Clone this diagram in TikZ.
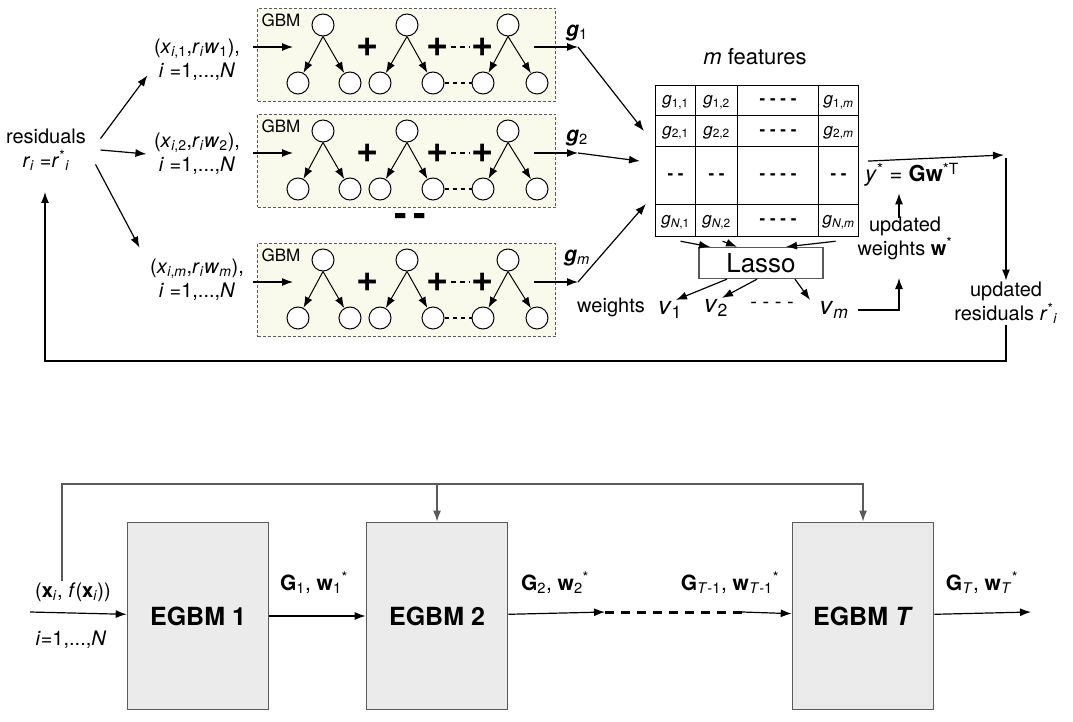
\documentclass[tikz,border=0pt]{standalone}
\usepackage{fontspec}
\setmainfont{TeX Gyre Heros}
\usetikzlibrary{arrows.meta,positioning,matrix}

\definecolor{gbmfill}{HTML}{FAFAEC}
\definecolor{egbmfill}{HTML}{EBEBEB}
\definecolor{edgegray}{HTML}{5A5A5A}

\newcommand{\sbs}[1]{\textsubscript{#1}}
\newcommand{\sps}[1]{\textsuperscript{#1}}
\newcommand{\gij}[2]{\textit{g}\sbs{#1,#2}}

\begin{document}
\begin{tikzpicture}[x=1pt, y=-1pt, line width=1.2pt,
  gbm/.style={draw=edgegray, line width=1pt, dash pattern=on 3pt off 2pt, fill=gbmfill, minimum width=298pt, minimum height=93pt, anchor=north west, inner sep=0pt},
  gbmtag/.style={anchor=north west, inner sep=0pt, font=\fontsize{17}{19}\selectfont},
  leaf/.style={draw, line width=1pt, circle, fill=white, minimum size=22pt, inner sep=0pt},
  plus/.style={inner sep=1pt, font=\bfseries\fontsize{38}{38}\selectfont},
  arr/.style={-{Latex[length=11pt,width=8pt]}},
  lab/.style={align=center, inner sep=1pt, font=\fontsize{20}{24}\selectfont},
  vlab/.style={inner sep=1pt, font=\fontsize{25}{28}\selectfont},
  cell/.style={draw, line width=1.3pt, inner sep=0pt, anchor=center, text height=12pt, text depth=4pt, font=\fontsize{17}{20}\selectfont},
  egbm/.style={draw=edgegray, line width=1.6pt, fill=egbmfill, minimum width=141pt, minimum height=187pt, font=\bfseries\fontsize{25}{28}\selectfont},
  blab/.style={inner sep=1pt, font=\fontsize{21}{24}\selectfont}
]
\useasboundingbox (0,0) rectangle (1073,722);

% residuals and the m GBM rows
\node[lab] (resid) at (46,150) {residuals\\\textit{r}\sbs{\textit{i}} =\textit{r}\sps{*}\sbs{\textit{i}}};

\foreach \k/\dy/\ly/\gy/\q in {1/0/60/33/1, 2/106/154/138/2, 3/235/280/258/{\textit{m}}} {
  \node[gbm] (box\k) at (257,{8+\dy}) {};
  \node[gbmtag] (tag\k) at (261,{13+\dy}) {GBM};
  \foreach \tr/\rx/\lx/\cx in {1/323/298/350, 2/407/380/433, 3/508/483/537} {
    \node[leaf] (rt\k\tr) at (\rx,{25+\dy}) {};
    \node[leaf] (lt\k\tr) at (\lx,{83+\dy}) {};
    \node[leaf] (ct\k\tr) at (\cx,{83+\dy}) {};
    \draw[arr, line width=1pt] (rt\k\tr.south) -- (lt\k\tr);
    \draw[arr, line width=1pt] (rt\k\tr.south) -- (ct\k\tr);
  }
  \node[plus] (pa\k) at (368,{47+\dy}) {+};
  \node[plus] (pb\k) at (438,{47+\dy}) {+};
  \node[plus] (pc\k) at (483,{47+\dy}) {+};
  \draw[line width=1.8pt, dash pattern=on 5pt off 4pt] (pb\k) -- (pc\k);
  \draw[dash pattern=on 4pt off 4pt] (ct\k2) -- (lt\k3);
  \node[lab] (in\k) at (197,\ly) {(\textit{x}\sbs{\textit{i},\q},\textit{r}\sbs{\textit{i}}\textit{w}\sbs{\q}),\\\textit{i} =1,...,\textit{N}};
  \coordinate (tin\k) at (293,{47+\dy});
  \coordinate (gout\k) at (578,{47+\dy});
  \draw[arr] ([xshift=-4pt]box\k.west |- tin\k) -- (tin\k);
  \draw[arr] ([xshift=-22pt]box\k.east |- gout\k) -- (gout\k);
  \node[lab, font=\fontsize{21}{24}\selectfont] (g\k) at (577,\gy) {\textbf{\textit{g}}\sbs{\q}};
}
\node[plus] (vdots) at (410,220) {-\,-};

\draw[arr] ([shift={(13pt,-11pt)}]resid.north east) -- ([shift={(-5pt,7pt)}]in1.south west);
\draw[arr] ([xshift=13pt]resid.east) -- ([xshift=-6pt]in2.west);
\draw[arr] ([shift={(8pt,8pt)}]resid.south east) -- ([shift={(-9pt,10pt)}]in3.north west);

% feature matrix
\node[lab, font=\fontsize{22}{26}\selectfont] (mfeat) at (755,57) {\textit{m} features};
\matrix (feat) [matrix of nodes, anchor=north west, nodes={cell}, column sep=-1.3pt, row sep=-1.3pt,
  column 1/.style={nodes={minimum width=40pt}},
  column 2/.style={nodes={minimum width=42pt}},
  column 3/.style={nodes={minimum width=81pt}},
  column 4/.style={nodes={minimum width=40pt}},
  row 1/.style={nodes={minimum height=30pt}},
  row 2/.style={nodes={minimum height=31pt}},
  row 3/.style={nodes={minimum height=58pt}},
  row 4/.style={nodes={minimum height=32pt}}] at (651,81) {
  \gij{1}{1} & \gij{1}{2} & \textbf{- - - -} & \gij{1}{\textit{m}} \\
  \gij{2}{1} & \gij{2}{2} & \textbf{- - - -} & \gij{2}{\textit{m}} \\
  \textbf{- -} & \textbf{- -} & \textbf{- - - -} & \textbf{- -} \\
  \gij{\textit{N}}{1} & \gij{\textit{N}}{2} & \textbf{- - - -} & \gij{\textit{N}}{\textit{m}} \\
};

\draw[arr] (gout1) -- ([xshift=-11pt]feat-2-1.west);
\draw[arr] (gout2) -- ([xshift=-11pt]feat.west);
\draw[arr] (gout3) -- ([xshift=-9pt]feat-4-1.north west);

% lasso and weights
\node[draw=edgegray, line width=1.3pt, minimum width=124pt, minimum height=31pt, inner sep=0pt, font=\fontsize{26}{30}\selectfont] (lasso) at (761,263) {Lasso};
\draw[arr] ([shift={(5pt,-4pt)}]feat-4-1.south) -- ([xshift=-51pt]lasso.north);
\draw[arr] ([shift={(6pt,-4pt)}]feat-4-2.south) -- ([xshift=-24pt]lasso.north);
\draw[arr] ([shift={(-3pt,-4pt)}]feat-4-4.south) -- ([xshift=25pt]lasso.north);

\node[lab] (wts) at (611,307) {weights};
\node[vlab] (v1) at (670,310) {\textit{v}\sbs{1}};
\node[vlab] (v2) at (716,308) {\textit{v}\sbs{2}};
\node[lab] (vdash) at (772,305) {- - - -};
\node[vlab] (vm) at (834,310) {\textit{v}\sbs{\textit{m}}};
\draw[arr] ([xshift=-34pt]lasso.south) -- ([xshift=6pt]v1.north);
\draw[arr] ([xshift=-4pt]lasso.south) -- ([xshift=6pt]v2.north);
\draw[arr] ([xshift=34pt]lasso.south) -- ([xshift=-24pt]vm.north);

\node[lab] (upw) at (905,238) {updated\\weights \textbf{w}\sps{*}};
\coordinate (wup) at (899,278);
\draw[arr] ([xshift=8pt]vm.east) -| (wup);
\node[lab, font=\fontsize{22}{26}\selectfont] (ystar) at (912,175) {\textit{y}\sps{*} = \textbf{Gw}\sps{*T}};
\draw[arr] ([shift={(-6pt,-3pt)}]upw.north) -- ([shift={(-13pt,-5pt)}]ystar.south);

% output and residual update loop
\coordinate (ycor) at (1004,155);
\draw[arr] ([xshift=5pt]feat.east) -- (ycor);
\node[lab] (upres) at (1006,303) {updated\\residuals \textit{r}\sps{*}\sbs{\textit{i}}};
\draw[arr] ([shift={(2pt,-3pt)}]ycor) -- (upres.north);
\coordinate (lpc) at (45,361);
\coordinate (resin) at (45,192);
\draw[arr] (upres.south) |- (lpc) -- (resin);

% EGBM chain
\node[egbm] (e1) at (198,616) {EGBM 1};
\node[egbm] (e2) at (437,616) {EGBM 2};
\node[egbm] (eT) at (863,616) {EGBM \textit{T}};
\draw[white!80!gray] ([shift={(5pt,-5pt)}]eT.north west) rectangle ([shift={(-5pt,5pt)}]eT.south east);

\node[lab] (xin) at (73,592) {(\textbf{x}\sbs{\textit{i}}, \textit{f}(\textbf{x}\sbs{\textit{i}}))};
\node[lab] (xidx) at (71,640) {\textit{i}=1,...,\textit{N}};
\coordinate (xstart) at (30,612);
\draw[arr] (xstart) -- (e1);
\coordinate (fbtop) at (62,484);
\draw[arr, draw=edgegray, line width=1.5pt] ([xshift=-11pt]xin.north) -- (fbtop) -| (eT.north);
\draw[arr, draw=edgegray, line width=1.5pt] (e2.north |- fbtop) -- (e2.north);

\node[blab] (o1) at (314,583) {\textbf{G}\sbs{1}, \textbf{w}\sbs{1}\sps{*}};
\node[blab] (o2) at (555,583) {\textbf{G}\sbs{2}, \textbf{w}\sbs{2}\sps{*}};
\node[blab] (o3) at (730,583) {\textbf{G}\sbs{\textit{T}-1}, \textbf{w}\sbs{\textit{T}-1}\sps{*}};
\node[blab] (o4) at (982,583) {\textbf{G}\sbs{\textit{T}}, \textbf{w}\sbs{\textit{T}}\sps{*}};

\coordinate (dots1) at (605,612);
\coordinate (dots2) at (742,612);
\draw[arr] (e1) -- (e2);
\draw[arr] (e2) -- (dots1);
\draw[line width=3pt, dash pattern=on 9pt off 7pt] (dots1) -- (dots2);
\draw[arr] (dots2) -- (eT);
\coordinate (yout) at (1031,612);
\draw[arr] (eT) -- (yout);
\end{tikzpicture}
\end{document}
